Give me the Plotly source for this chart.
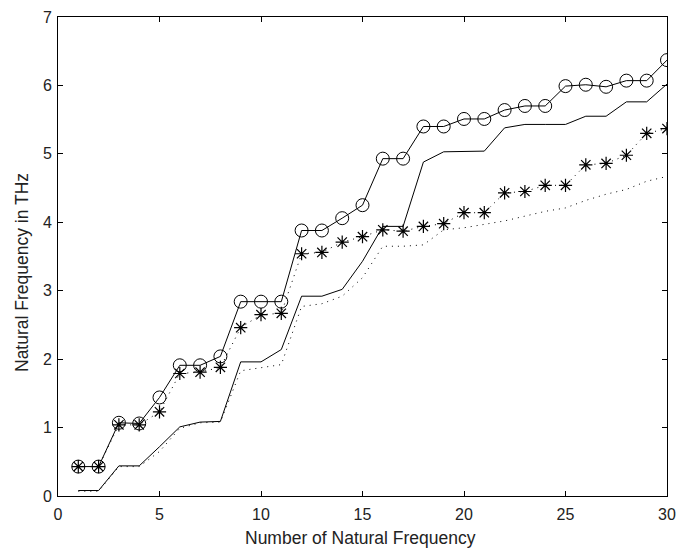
import plotly.graph_objects as go

idx = list(range(1, 31))

circ_vals = [0.43, 0.43, 1.07, 1.06, 1.44, 1.91, 1.91, 2.04, 2.84, 2.84,
             2.84, 3.88, 3.88, 4.06, 4.25, 4.93, 4.93, 5.40, 5.40, 5.51,
             5.51, 5.64, 5.70, 5.70, 5.99, 6.01, 5.98, 6.07, 6.07, 6.37]

star_vals = [0.43, 0.43, 1.04, 1.04, 1.23, 1.79, 1.81, 1.88, 2.46, 2.65,
             2.67, 3.54, 3.56, 3.71, 3.79, 3.89, 3.87, 3.94, 3.98, 4.14,
             4.14, 4.43, 4.45, 4.54, 4.54, 4.84, 4.86, 4.98, 5.30, 5.37]

solid_vals = [0.08, 0.08, 0.44, 0.44, 0.72, 1.01, 1.08, 1.09, 1.96, 1.96,
              2.14, 2.92, 2.92, 3.02, 3.43, 3.94, 3.94, 4.88, 5.03, 5.04,
              5.04, 5.38, 5.43, 5.43, 5.43, 5.55, 5.55, 5.76, 5.76, 6.02]

dot_vals = [0.07, 0.07, 0.43, 0.43, 0.65, 0.99, 1.07, 1.08, 1.83, 1.88,
            1.92, 2.77, 2.81, 2.92, 3.19, 3.65, 3.65, 3.67, 3.89, 3.92,
            3.97, 4.02, 4.09, 4.16, 4.21, 4.32, 4.41, 4.48, 4.60, 4.67]

x_ticks = [0, 5, 10, 15, 20, 25, 30]
y_ticks = [0, 1, 2, 3, 4, 5, 6, 7]

W, H = 676, 548
ML, MR, MT, MB = 58, 9, 17, 52
PW, PH = W - ML - MR, H - MT - MB

fig = go.Figure()
fig.add_trace(go.Scatter(x=idx, y=solid_vals, mode="lines",
                         line=dict(color="black", width=1)))
fig.add_trace(go.Scatter(x=idx, y=dot_vals, mode="lines",
                         line=dict(color="black", width=1, dash="1px,5px")))
fig.add_trace(go.Scatter(x=idx, y=star_vals, mode="lines+markers",
                         line=dict(color="black", width=1, dash="1px,5px"),
                         marker=dict(symbol="asterisk-open", size=11,
                                     line=dict(color="black", width=1.2))))
fig.add_trace(go.Scatter(x=idx, y=circ_vals, mode="lines+markers",
                         line=dict(color="black", width=1),
                         marker=dict(symbol="circle-open", size=13,
                                     color="black",
                                     line=dict(color="black", width=1))))

FONT = "Liberation Sans, Arial, sans-serif"
axis_common = dict(showgrid=False, zeroline=False, showline=True,
                   linecolor="black", linewidth=1, mirror="ticks",
                   ticks="inside", ticklen=5, tickcolor="black",
                   automargin=False,
                   tickfont=dict(family=FONT, size=16, color="#222"))

fig.update_layout(
    width=W, height=H,
    margin=dict(l=ML, r=MR, t=MT, b=MB),
    paper_bgcolor="white", plot_bgcolor="white",
    showlegend=False,
    font=dict(family=FONT, color="#222"),
    xaxis=dict(range=[0, 30], tickvals=x_ticks, ticklabelstandoff=4,
               **axis_common),
    yaxis=dict(range=[0, 7], tickvals=y_ticks, ticklabelstandoff=2,
               **axis_common),
    annotations=[
        dict(text="Number of Natural Frequency", xref="paper", yref="paper",
             x=(360 - ML) / PW, y=-(538 - (H - MB)) / PH,
             xanchor="center", yanchor="middle", showarrow=False,
             font=dict(family=FONT, size=17.5, color="#222")),
        dict(text="Natural Frequency in THz", xref="paper", yref="paper",
             x=-(ML - 22) / PW, y=((H - MB) - 273) / PH, textangle=-90,
             xanchor="center", yanchor="middle", showarrow=False,
             font=dict(family=FONT, size=17.5, color="#222")),
    ],
)

fig.write_html("out.html", config={"displayModeBar": False},
               post_script="document.body.style.margin='0px';")
